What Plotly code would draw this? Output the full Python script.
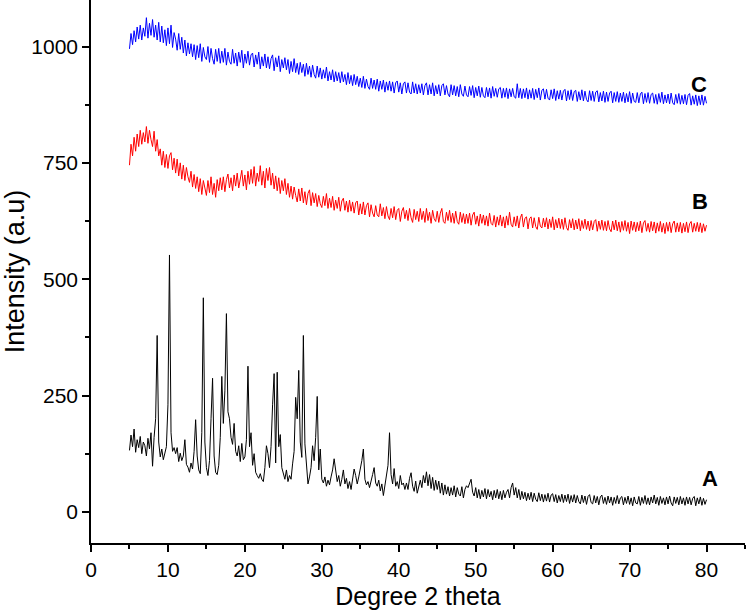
import numpy as np
import plotly.graph_objects as go

# 2-theta sampling grid (degrees), 5.0 .. 80.0 in 0.2 steps
two_theta = np.round(np.arange(5.0, 80.0001, 0.2), 1)

# Series A (black) intensity, rows of 10 points = 2 degrees each
intensity_a = [
    132, 165, 140, 178, 128, 155, 138, 162, 125, 150,   # 5.0-6.8
    142, 120, 158, 135, 170, 98, 160, 200, 379, 150,    # 7.0-8.8
    118, 135, 112, 128, 140, 230, 552, 170, 130, 138,   # 9.0-10.8
    125, 138, 108, 126, 110, 120, 155, 102, 96, 85,     # 11.0-12.8
    105, 92, 130, 198, 120, 90, 82, 170, 460, 150,      # 13.0-14.8
    95, 78, 110, 200, 287, 120, 85, 80, 100, 160,       # 15.0-16.8
    291, 190, 260, 426, 215, 200, 160, 145, 190, 130,   # 17.0-18.8
    120, 142, 108, 147, 112, 118, 155, 313, 140, 170,   # 19.0-20.8
    100, 125, 85, 78, 72, 82, 70, 65, 95, 142,          # 21.0-22.8
    125, 95, 140, 230, 297, 105, 300, 140, 166, 95,     # 23.0-24.8
    80, 70, 90, 65, 78, 70, 103, 130, 246, 200,         # 25.0-26.8
    304, 150, 117, 379, 146, 90, 60, 75, 95, 142,       # 27.0-28.8
    110, 160, 248, 90, 135, 70, 62, 75, 55, 68,         # 29.0-30.8
    58, 75, 90, 114, 85, 65, 78, 55, 70, 90,            # 31.0-32.8
    60, 72, 50, 65, 48, 70, 92, 78, 60, 75,             # 33.0-34.8
    90, 110, 135, 70, 58, 65, 52, 70, 80, 95,           # 35.0-36.8
    62, 55, 68, 45, 60, 35, 58, 70, 100, 170,           # 37.0-38.8
    80, 60, 93, 55, 65, 50, 78, 58, 62, 48,             # 39.0-40.8
    62, 48, 72, 84, 55, 44, 66, 40, 58, 68,             # 41.0-42.8
    52, 78, 62, 86, 56, 80, 50, 74, 46, 68,             # 43.0-44.8
    48, 66, 40, 62, 36, 58, 38, 54, 34, 52,             # 45.0-46.8
    36, 56, 32, 52, 38, 34, 54, 30, 48, 56,             # 47.0-48.8
    52, 64, 70, 42, 34, 52, 30, 48, 28, 46,             # 49.0-50.8
    32, 50, 28, 48, 32, 44, 26, 46, 30, 48,             # 51.0-52.8
    28, 44, 26, 46, 30, 42, 48, 30, 52, 62,             # 53.0-54.8
    36, 52, 30, 48, 26, 44, 28, 42, 24, 40,             # 55.0-56.8
    26, 42, 22, 40, 27, 22, 41, 24, 38, 21,             # 57.0-58.8
    37, 23, 40, 21, 36, 39, 22, 37, 19, 35,             # 59.0-60.8
    22, 38, 20, 36, 22, 38, 18, 35, 21, 37,             # 61.0-62.8
    19, 35, 22, 17, 36, 20, 34, 16, 33, 37,             # 63.0-64.8
    20, 17, 35, 19, 33, 15, 32, 36, 18, 31,             # 65.0-66.8
    16, 34, 19, 32, 14, 31, 18, 35, 17, 30,             # 67.0-68.8
    33, 15, 31, 18, 34, 16, 30, 13, 32, 19,             # 69.0-70.8
    17, 33, 14, 31, 18, 35, 16, 30, 15, 32,             # 71.0-72.8
    19, 36, 17, 31, 14, 33, 18, 30, 15, 32,             # 73.0-74.8
    17, 34, 19, 13, 32, 18, 31, 15, 33, 17,             # 75.0-76.8
    30, 14, 32, 17, 31, 15, 29, 33, 13, 30,             # 77.0-78.8
    17, 32, 14, 29, 16, 26,                             # 79.0-80.0
]

# Series B (red)
intensity_b = [
    745, 790, 765, 805, 775, 812, 785, 820, 790, 815,   # 5.0-6.8
    795, 828, 792, 820, 800, 785, 818, 775, 800, 765,   # 7.0-8.8
    780, 745, 775, 740, 768, 738, 765, 772, 735, 760,   # 9.0-10.8
    728, 758, 722, 750, 715, 745, 712, 740, 720, 708,   # 11.0-12.8
    732, 698, 725, 695, 720, 688, 716, 682, 712, 692,   # 13.0-14.8
    680, 712, 686, 720, 682, 706, 676, 714, 690, 718,   # 15.0-16.8
    692, 720, 688, 714, 726, 696, 718, 690, 724, 700,   # 17.0-18.8
    728, 696, 720, 734, 700, 724, 692, 732, 704, 736,   # 19.0-20.8
    706, 742, 700, 728, 710, 744, 702, 732, 696, 738,   # 21.0-22.8
    712, 740, 702, 728, 694, 722, 690, 718, 684, 712,   # 23.0-24.8
    690, 716, 682, 706, 676, 700, 672, 698, 680, 666,   # 25.0-26.8
    694, 668, 696, 664, 688, 660, 684, 692, 658, 686,   # 27.0-28.8
    664, 684, 656, 680, 662, 654, 678, 658, 684, 652,   # 29.0-30.8
    674, 654, 678, 648, 670, 652, 676, 646, 668, 674,   # 31.0-32.8
    648, 668, 644, 670, 646, 666, 642, 664, 668, 638,   # 33.0-34.8
    662, 640, 666, 638, 658, 664, 634, 660, 642, 634,   # 35.0-36.8
    658, 638, 634, 662, 636, 654, 630, 656, 636, 628,   # 37.0-38.8
    652, 632, 656, 628, 648, 652, 624, 646, 654, 630,   # 39.0-40.8
    648, 626, 652, 632, 622, 650, 628, 646, 624, 652,   # 41.0-42.8
    628, 646, 622, 652, 626, 644, 620, 648, 630, 624,   # 43.0-44.8
    646, 622, 642, 652, 624, 620, 644, 626, 648, 622,   # 45.0-46.8
    642, 620, 646, 624, 618, 644, 622, 641, 619, 640,   # 47.0-48.8
    620, 642, 616, 638, 644, 618, 636, 614, 640, 620,   # 49.0-50.8
    638, 616, 636, 614, 642, 620, 616, 637, 612, 634,   # 51.0-52.8
    616, 638, 614, 634, 610, 636, 616, 644, 618, 612,   # 53.0-54.8
    634, 614, 636, 610, 632, 640, 612, 631, 634, 608,   # 55.0-56.8
    630, 634, 610, 632, 613, 607, 633, 614, 610, 631,   # 57.0-58.8
    612, 632, 608, 629, 611, 634, 606, 628, 610, 631,   # 59.0-60.8
    609, 629, 607, 632, 611, 605, 628, 610, 630, 606,   # 61.0-62.8
    627, 608, 630, 604, 626, 609, 629, 607, 625, 604,   # 63.0-64.8
    626, 606, 624, 628, 603, 625, 607, 627, 605, 624,   # 65.0-66.8
    604, 626, 608, 602, 625, 606, 627, 604, 623, 601,   # 67.0-68.8
    624, 605, 626, 603, 622, 598, 625, 605, 623, 602,   # 69.0-70.8
    622, 604, 625, 600, 621, 626, 603, 620, 601, 624,   # 71.0-72.8
    604, 623, 599, 621, 603, 624, 601, 620, 598, 622,   # 73.0-74.8
    603, 623, 600, 619, 625, 601, 621, 602, 622, 599,   # 75.0-76.8
    620, 602, 623, 600, 619, 624, 601, 620, 603, 622,   # 77.0-78.8
    602, 621, 600, 619, 603, 616,                       # 79.0-80.0
]

# Series C (blue)
intensity_c = [
    995, 1028, 1004, 1034, 1010, 1042, 1016, 1046, 1014, 1040,    # 5.0-6.8
    1022, 1062, 1018, 1050, 1024, 1058, 1020, 1046, 1014, 1052,   # 7.0-8.8
    1010, 1044, 1008, 1036, 1002, 1040, 1006, 1046, 998, 1030,    # 9.0-10.8
    1016, 992, 1028, 994, 1020, 986, 1014, 980, 1008, 984,        # 11.0-12.8
    1006, 978, 1004, 972, 1002, 976, 1006, 968, 998, 978,         # 13.0-14.8
    972, 1000, 966, 996, 974, 962, 994, 968, 996, 964,            # 15.0-16.8
    990, 966, 996, 960, 988, 968, 962, 994, 964, 986,             # 17.0-18.8
    958, 988, 966, 992, 954, 984, 964, 990, 960, 982,             # 19.0-20.8
    986, 956, 982, 962, 988, 952, 978, 958, 984, 954,             # 21.0-22.8
    978, 952, 974, 982, 948, 976, 956, 980, 946, 972,             # 23.0-24.8
    954, 976, 950, 972, 942, 968, 946, 974, 944, 964,             # 25.0-26.8
    940, 966, 944, 962, 936, 964, 940, 958, 934, 960,             # 27.0-28.8
    940, 932, 958, 934, 954, 930, 950, 932, 956, 926,             # 29.0-30.8
    946, 928, 950, 924, 946, 926, 944, 922, 946, 924,             # 31.0-32.8
    940, 918, 944, 920, 938, 916, 940, 918, 936, 914,             # 33.0-34.8
    932, 912, 936, 910, 930, 914, 908, 932, 910, 928,             # 35.0-36.8
    908, 930, 904, 926, 908, 928, 902, 924, 906, 926,             # 37.0-38.8
    904, 924, 900, 922, 926, 902, 922, 898, 920, 924,             # 39.0-40.8
    900, 922, 902, 898, 924, 900, 920, 898, 918, 900,             # 41.0-42.8
    920, 896, 916, 922, 896, 918, 898, 922, 894, 916,             # 43.0-44.8
    898, 918, 894, 916, 920, 896, 916, 898, 892, 918,             # 45.0-46.8
    896, 916, 894, 914, 892, 918, 898, 893, 915, 896,             # 47.0-48.8
    892, 914, 895, 916, 890, 912, 894, 915, 891, 912,             # 49.0-50.8
    894, 890, 912, 892, 911, 889, 914, 893, 910, 891,             # 51.0-52.8
    909, 912, 889, 910, 891, 911, 888, 909, 892, 910,             # 53.0-54.8
    892, 889, 920, 890, 910, 888, 909, 890, 911, 887,             # 55.0-56.8
    907, 889, 910, 886, 908, 890, 911, 885, 906, 909,             # 57.0-58.8
    887, 908, 889, 885, 907, 888, 909, 884, 905, 887,             # 59.0-60.8
    906, 885, 904, 908, 883, 905, 886, 907, 884, 903,             # 61.0-62.8
    906, 882, 903, 885, 907, 883, 904, 886, 881, 905,             # 63.0-64.8
    884, 904, 882, 902, 905, 881, 901, 883, 904, 880,             # 65.0-66.8
    902, 882, 900, 904, 879, 901, 882, 903, 880, 900,             # 67.0-68.8
    882, 902, 879, 899, 881, 903, 878, 900, 882, 880,             # 69.0-70.8
    901, 879, 898, 902, 877, 899, 880, 901, 878, 897,             # 71.0-72.8
    900, 878, 897, 876, 899, 880, 902, 877, 896, 879,             # 73.0-74.8
    898, 877, 900, 879, 875, 897, 878, 899, 876, 895,             # 75.0-76.8
    877, 897, 875, 895, 899, 874, 894, 876, 896, 873,             # 77.0-78.8
    894, 875, 896, 874, 893, 878,                                 # 79.0-80.0
]

series_names = ["A", "B", "C"]
series_colors = ["#000000", "#ff0000", "#0000ff"]
label_x = [80.4, 79.2, 79.0]
label_y = [71, 668, 918]

x_ticks = [0, 10, 20, 30, 40, 50, 60, 70, 80]
y_ticks = [0, 250, 500, 750, 1000]

assert len(intensity_a) == len(two_theta)
assert len(intensity_b) == len(two_theta)
assert len(intensity_c) == len(two_theta)

FONT = "Arial, 'Liberation Sans', sans-serif"

fig = go.Figure()
for name, vals, col in zip(series_names, [intensity_a, intensity_b, intensity_c], series_colors):
    fig.add_trace(go.Scatter(x=two_theta, y=vals, mode="lines", name=name,
                             line=dict(color=col, width=1), showlegend=False,
                             hoverinfo="skip"))

for name, lx, ly in zip(series_names, label_x, label_y):
    fig.add_annotation(x=lx, y=ly, text="<b>%s</b>" % name, showarrow=False,
                       font=dict(family=FONT, size=22, color="black"),
                       xanchor="center", yanchor="middle")

axis_common = dict(showline=True, linecolor="black", linewidth=1.5, mirror=False,
                   ticks="outside", ticklen=7, tickwidth=1.5, tickcolor="black",
                   showgrid=False, zeroline=False,
                   tickfont=dict(family=FONT, size=21, color="black"))

fig.update_layout(
    width=750, height=614,
    margin=dict(l=91, r=5, t=0, b=71),
    paper_bgcolor="white", plot_bgcolor="white",
    xaxis=dict(range=[0, 85], tickvals=x_ticks,
               minor=dict(dtick=5, tick0=0, ticks="outside", ticklen=4, tickwidth=1.5, tickcolor="black"),
               title=dict(text="Degree 2 theta", font=dict(family=FONT, size=25, color="black"), standoff=8),
               **axis_common),
    yaxis=dict(range=[-67, 1100], tickvals=y_ticks,
               minor=dict(dtick=125, tick0=0, ticks="outside", ticklen=4, tickwidth=1.5, tickcolor="black"),
               title=dict(text="Intensity (a.u)", font=dict(family=FONT, size=27, color="black"), standoff=4),
               **axis_common),
)

fig.write_html("out.html", config={"displayModeBar": False},
               post_script="document.body.style.margin='0';document.body.style.padding='0';")
